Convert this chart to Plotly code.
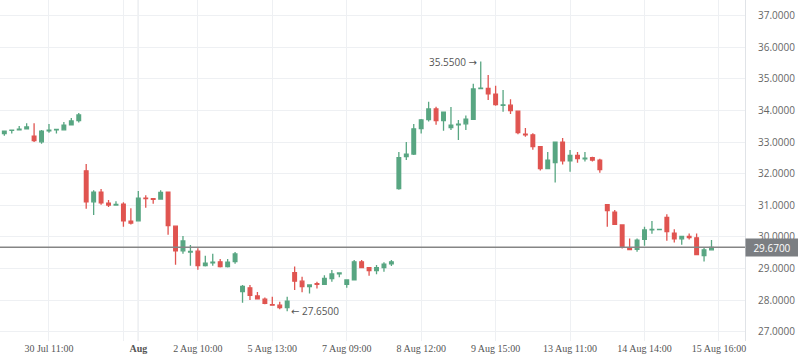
import plotly.graph_objects as go

# OHLC per bar (bar index = position on the time scale)
opens = [33.27, 33.37, 33.39, 33.42, 33.19, 33.01, 33.36, 33.39, 33.39, 33.55, 33.68,
         32.09, 31.11, 31.42, 31.07, 31.01, 31.04, 30.50, 30.51, 31.23, 31.21, 31.20,
         31.42, 30.34, 29.56, 29.52, 29.55, 29.09, 29.18, 29.21, 29.06, 29.22,
         28.27, 28.39, 28.13, 28.03, 27.86, 27.84, 27.76, 28.87, 28.60, 28.43, 28.52,
         28.50, 28.68, 28.83, 28.50, 28.64, 29.21, 29.03, 28.93, 29.03, 29.15,
         31.53, 32.54, 32.62, 33.43, 33.71, 34.05, 33.68, 33.46, 33.55, 33.58, 33.72,
         34.69, 34.70, 34.52, 34.16, 34.17, 33.98, 33.25, 33.23, 32.86, 32.16, 32.35,
         33.00, 32.41, 32.58, 32.47, 32.51, 32.43,
         31.02, 30.78, 30.38, 29.66, 29.61, 29.92, 30.22, 30.23, 30.62, 30.12, 29.94,
         30.02, 29.97, 29.41, 29.59]
highs = [33.36, 33.39, 33.51, 33.60, 33.60, 33.38, 33.57, 33.41, 33.64, 33.76, 33.92,
         32.31, 31.48, 31.52, 31.17, 31.13, 31.10, 30.91, 31.45, 31.32, 31.23, 31.48,
         31.43, 30.35, 30.03, 29.74, 29.64, 29.40, 29.47, 29.30, 29.30, 29.52,
         28.48, 28.48, 28.26, 28.08, 28.11, 27.95, 28.11, 29.06, 28.74, 28.48, 28.58,
         28.79, 28.95, 28.88, 28.64, 29.27, 29.27, 29.03, 29.11, 29.20, 29.27,
         32.69, 33.00, 33.57, 33.73, 34.28, 34.12, 33.96, 34.11, 33.70, 33.84, 34.85,
         35.55, 35.12, 34.78, 34.65, 34.36, 33.99, 33.45, 33.28, 32.88, 32.69, 33.00,
         33.13, 32.75, 32.69, 32.69, 32.54, 32.47,
         31.04, 30.85, 30.38, 29.95, 29.95, 30.32, 30.50, 30.25, 30.72, 30.24, 30.02,
         30.11, 30.11, 29.67, 29.90]
lows = [33.20, 33.27, 33.37, 33.42, 33.00, 32.95, 33.30, 33.27, 33.39, 33.55, 33.62,
        30.89, 30.69, 31.02, 30.95, 30.99, 30.32, 30.39, 30.51, 30.92, 31.05, 31.18,
        30.07, 29.12, 29.47, 29.09, 28.96, 29.06, 29.09, 29.03, 29.03, 29.15,
        27.92, 28.00, 28.02, 27.87, 27.82, 27.71, 27.65, 28.32, 28.25, 28.21, 28.37,
        28.48, 28.58, 28.72, 28.39, 28.64, 29.02, 28.77, 28.82, 28.90, 29.08,
        31.49, 32.43, 32.59, 33.27, 33.65, 33.55, 33.36, 33.38, 33.07, 33.38, 33.70,
        34.69, 34.33, 34.15, 33.96, 33.89, 33.25, 33.17, 32.76, 32.10, 32.16, 31.72,
        32.29, 32.06, 32.35, 32.39, 32.39, 32.03,
        30.32, 30.39, 29.63, 29.58, 29.53, 29.72, 30.10, 30.23, 29.88, 29.82, 29.75,
        29.92, 29.42, 29.22, 29.58]
closes = [33.35, 33.38, 33.41, 33.48, 33.05, 33.35, 33.38, 33.40, 33.54, 33.67, 33.86,
          31.11, 31.42, 31.08, 31.01, 31.03, 30.51, 30.44, 31.23, 31.21, 31.19, 31.41,
          30.36, 29.56, 29.87, 29.54, 29.09, 29.17, 29.20, 29.06, 29.20, 29.46,
          28.43, 28.15, 28.04, 27.90, 27.84, 27.76, 27.97, 28.60, 28.43, 28.48, 28.50,
          28.69, 28.83, 28.86, 28.64, 29.21, 29.03, 28.93, 29.03, 29.14, 29.21,
          32.51, 32.62, 33.42, 33.70, 34.05, 33.68, 33.95, 33.54, 33.57, 33.73, 34.68,
          34.71, 34.53, 34.19, 34.18, 34.00, 33.30, 33.23, 32.86, 32.16, 32.43, 33.00,
          32.41, 32.58, 32.48, 32.49, 32.43, 32.13,
          30.83, 30.40, 29.67, 29.60, 29.90, 30.22, 30.24, 30.24, 30.17, 29.94, 30.02,
          29.98, 29.44, 29.59, 29.67]
bar_index = list(range(len(opens)))

tick_positions = [6, 16, 18, 26, 36, 46, 56, 66, 76, 86, 96]
tick_labels = ["30 Jul 11:00", "", "<b>Aug</b>", "2 Aug 10:00", "5 Aug 13:00",
               "7 Aug 09:00", "8 Aug 12:00", "9 Aug 15:00", "13 Aug 11:00",
               "14 Aug 14:00", "15 Aug 16:00"]
month_start_index = 18
last_price = closes[-1]
max_i = highs.index(max(highs))
min_i = lows.index(min(lows))

GREEN = "#58a682"
RED = "#e05450"

fig = go.Figure(go.Candlestick(
    x=bar_index, open=opens, high=highs, low=lows, close=closes,
    increasing=dict(line=dict(color=GREEN, width=1.3), fillcolor=GREEN),
    decreasing=dict(line=dict(color=RED, width=1.3), fillcolor=RED),
    whiskerwidth=0, hoverinfo="skip",
))

fig.add_shape(type="line", xref="x", yref="paper", x0=month_start_index, x1=month_start_index,
              y0=0, y1=1, line=dict(color="#d6d8dc", width=1.2), layer="below")
fig.add_shape(type="line", xref="paper", yref="y", x0=0, x1=1, y0=last_price, y1=last_price,
              line=dict(color="#858585", width=1.5))

ARROW = '<span style="font-family:DejaVu Sans">{}</span>'
fig.add_annotation(x=max_i, y=highs[max_i], text=f"{highs[max_i]:.4f} " + ARROW.format("→"),
                   showarrow=False, xanchor="right", xshift=-2,
                   font=dict(family="Open Sans", size=10, color="#555"))
fig.add_annotation(x=min_i, y=lows[min_i], text=ARROW.format("←") + f" {lows[min_i]:.4f}",
                   showarrow=False, xanchor="left", xshift=2,
                   font=dict(family="Open Sans", size=10, color="#555"))
fig.add_annotation(xref="paper", x=1, y=last_price, text=f"{last_price:.4f}", showarrow=False,
                   xanchor="left", yanchor="middle", bgcolor="#7b7e82", width=50, height=15,
                   font=dict(family="Open Sans", size=10, color="#ffffff"))

fig.update_layout(
    width=798, height=363,
    margin=dict(l=0, r=53, t=0, b=22),
    paper_bgcolor="white", plot_bgcolor="white",
    showlegend=False,
    xaxis=dict(range=[-0.58, 99.5], rangeslider=dict(visible=False),
               tickmode="array", tickvals=tick_positions, ticktext=tick_labels,
               showgrid=True, gridcolor="#eef0f3", gridwidth=1, zeroline=False,
               ticks="", tickfont=dict(family="Liberation Serif", size=10, color="#555")),
    yaxis=dict(range=[26.706, 37.497], side="right", dtick=1, tick0=27, tickformat=".4f",
               showgrid=True, gridcolor="#eef0f3", gridwidth=1, zeroline=False,
               showline=True, linecolor="#e0e3e7", linewidth=1,
               ticks="", ticklabelstandoff=10,
               tickfont=dict(family="Open Sans", size=10, color="#666")),
)

fig.write_html("out.html", config={"displayModeBar": False},
               post_script="document.body.style.margin='0';")
